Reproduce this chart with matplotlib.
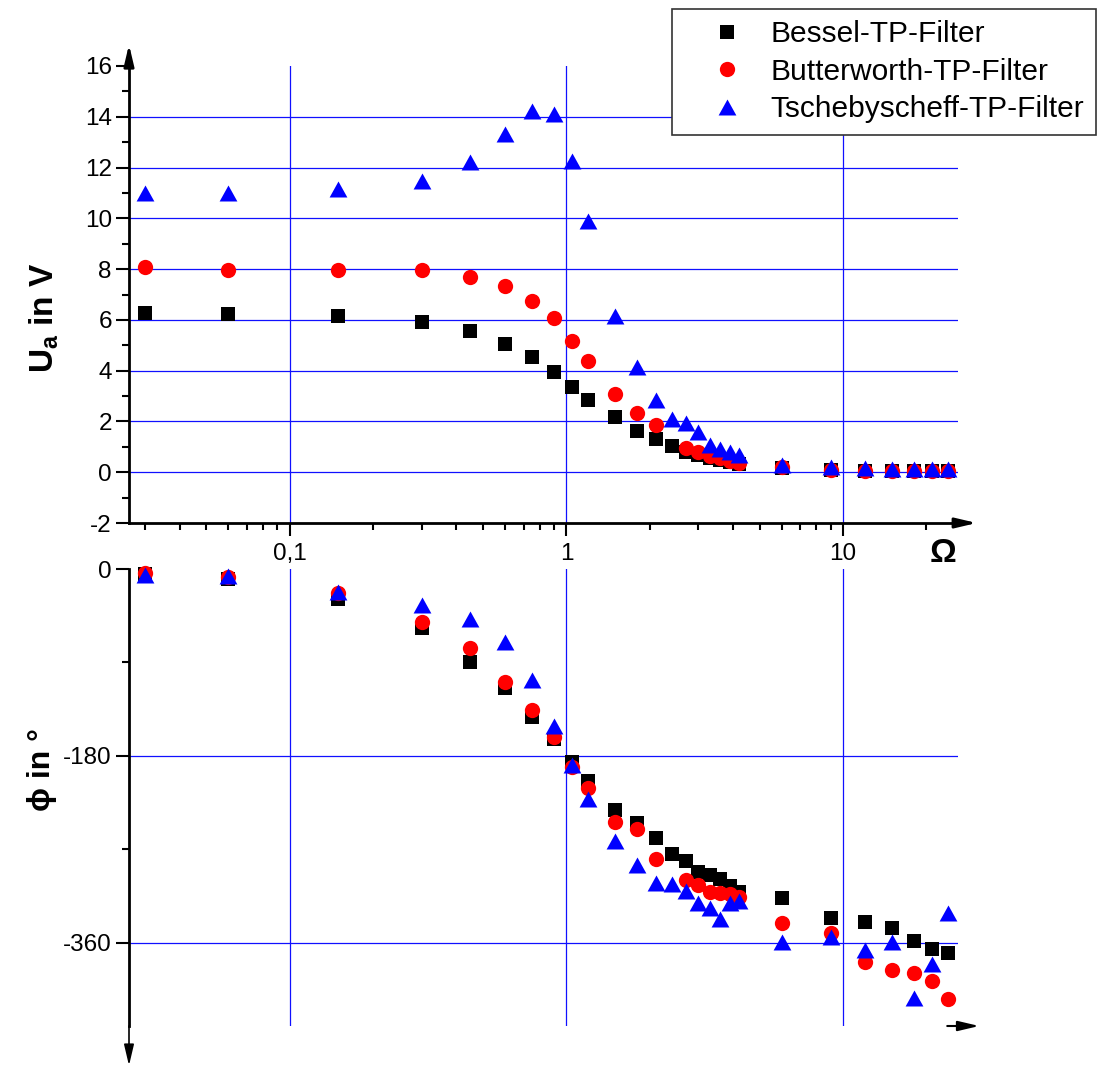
import numpy as np
import matplotlib
matplotlib.use("Agg")
import matplotlib.pyplot as plt
from matplotlib.ticker import FixedLocator, FixedFormatter, NullFormatter

plt.rcParams['font.family'] = ['Liberation Sans', 'DejaVu Sans']
plt.rcParams['mathtext.fontset'] = 'custom'
plt.rcParams['mathtext.rm'] = 'Liberation Sans'
plt.rcParams['mathtext.bf'] = 'Liberation Sans:bold'

nan = np.nan

# normalised frequency Omega = f / f_g
omega = [0.03, 0.06, 0.15, 0.3, 0.45, 0.6, 0.75, 0.9, 1.05, 1.2, 1.5, 1.8, 2.1,
         2.4, 2.7, 3.0, 3.3, 3.6, 3.9, 4.2, 6, 9, 12, 15, 18, 21, 24]

# output voltage U_a in V
u_bessel = [6.27, 6.23, 6.15, 5.92, 5.56, 5.05, 4.54, 3.94, 3.35, 2.84, 2.17, 1.62, 1.30,
            1.03, 0.80, 0.66, 0.55, 0.47, 0.40, 0.33, 0.18, 0.10, 0.06, 0.05, 0.05, 0.04, 0.04]
u_butter = [8.10, 7.97, 7.97, 7.97, 7.69, 7.34, 6.75, 6.08, 5.17, 4.38, 3.10, 2.33, 1.85,
            nan, 0.95, 0.80, 0.65, 0.55, 0.46, 0.38, 0.20, 0.10, 0.06, 0.05, 0.04, 0.04, 0.03]
u_tsch = [11.0, 11.0, 11.16, 11.48, 12.23, 13.33, 14.24, 14.12, 12.27, 9.90, 6.15, 4.14, 2.84,
          2.10, 1.93, 1.58, 1.06, 0.90, 0.80, 0.67, 0.30, 0.22, 0.15, 0.13, 0.13, 0.12, 0.12]

# phase shift phi in degrees
phi_bessel = [-5, -10, -29, -57, -89.5, -114.5, -142.5, -163.6, -185.8, -204, -232, -244.5, -259,
              -274, -281, -291.6, -294.5, -298, -305, -311, -316.7, -336, -340, -345.6, -358, -365.8, -369.6]
phi_butter = [-4, -7.5, -23, -51, -76, -108.8, -135.7, -161.7, -190.6, -210.8, -243.5, -250, -279,
              nan, -299, -304, -311, -312, -313, -316, -340.7, -350, -378, -386, -388.6, -396.6, -414]
phi_tsch = [-6, -7, -22, -34.6, -48, -70, -106.8, -151, -188.7, -221, -261.6, -285, -302,
            -303, -309.6, -322, -326, -336.9, -321.5, -319.6, -359, -354, -366.7, -359, -413, -380, -331]

labels = ["Bessel-TP-Filter", "Butterworth-TP-Filter", "Tschebyscheff-TP-Filter"]

x_major = [0.1, 1, 10]
x_major_labels = ["0,1", "1", "10"]
u_ticks = [-2, 0, 2, 4, 6, 8, 10, 12, 14, 16]
u_grid = [0, 2, 4, 6, 8, 10, 12, 14]
phi_ticks = [0, -180, -360]
phi_grid = [-180, -360]

W, H = 1098, 1066
fig = plt.figure(figsize=(W / 100, H / 100), dpi=100)

left, right = 129 / W, 958 / W
ax1 = fig.add_axes([left, 1 - 523 / H, right - left, (523 - 66) / H])
ax2 = fig.add_axes([left, 1 - 1026 / H, right - left, (1026 - 569) / H])

tri = [(0, 0.9), (-1, -0.9), (1, -0.9)]
styles = [dict(marker='s', color='black', ms=9.6),
          dict(marker='o', color='red', ms=11.0),
          dict(marker=tri, color='blue', ms=12.8)]

xlim = (0.02625, 26.0)
gridc = '#1010ff'
TICKFS = 17.5

for ax in (ax1, ax2):
    ax.set_xscale('log')
    ax.set_xlim(*xlim)
    for s in ('top', 'right'):
        ax.spines[s].set_visible(False)
    ax.spines['left'].set_linewidth(2.0)
    ax.spines['bottom'].set_linewidth(2.0)
    ax.set_facecolor('none')
    for xv in x_major:
        ax.axvline(xv, color=gridc, lw=0.9, zorder=1)

# --- amplitude ---
for y, st, lab in zip([u_bessel, u_butter, u_tsch], styles, labels):
    ax1.plot(omega, y, linestyle='none', markeredgewidth=0, label=lab, zorder=3,
             clip_on=False, **st)
ax1.set_ylim(-2, 16)
for yv in u_grid:
    ax1.axhline(yv, color=gridc, lw=0.9, zorder=1)
ax1.yaxis.set_major_locator(FixedLocator(u_ticks))
ax1.yaxis.set_minor_locator(FixedLocator([-1, 1, 3, 5, 7, 9, 11, 13, 15]))
ax1.yaxis.set_major_formatter(FixedFormatter([str(t) for t in u_ticks]))
ax1.xaxis.set_major_locator(FixedLocator(x_major))
ax1.xaxis.set_major_formatter(FixedFormatter(x_major_labels))
minor = [m * 10.0 ** e for e in (-2, -1, 0, 1) for m in range(2, 10)]
ax1.xaxis.set_minor_locator(FixedLocator([v for v in minor if xlim[0] < v < xlim[1]]))
ax1.xaxis.set_minor_formatter(NullFormatter())
ax1.tick_params(which='major', direction='out', length=9.4, width=1.5, labelsize=TICKFS, pad=3)
ax1.tick_params(axis='x', which='major', pad=5)
ax1.tick_params(which='minor', direction='out', length=5, width=1.5)

# --- phase ---
for y, st in zip([phi_bessel, phi_butter, phi_tsch], styles):
    ax2.plot(omega, y, linestyle='none', markeredgewidth=0, zorder=3, clip_on=False, **st)
ax2.set_ylim(-440, 0)
for yv in phi_grid:
    ax2.axhline(yv, color=gridc, lw=0.9, zorder=1)
ax2.spines['bottom'].set_visible(False)
ax2.yaxis.set_major_locator(FixedLocator(phi_ticks))
ax2.yaxis.set_minor_locator(FixedLocator([-90, -270]))
ax2.yaxis.set_major_formatter(FixedFormatter([str(t) for t in phi_ticks]))
ax2.xaxis.set_major_locator(FixedLocator([]))
ax2.xaxis.set_minor_locator(FixedLocator([]))
ax2.tick_params(which='major', direction='out', length=9.4, width=1.5, labelsize=TICKFS, pad=3)
ax2.tick_params(which='minor', direction='out', length=5, width=1.5)

# axis arrows
def arrow(ax, xy, off, lw, hl=0.85, hw=0.2):
    ax.annotate('', xy=xy, xycoords='axes fraction', xytext=off, textcoords='offset points',
                arrowprops=dict(arrowstyle=f'<|-,head_length={hl},head_width={hw}',
                                color='black', lw=lw, shrinkA=0, shrinkB=0,
                                mutation_scale=15),
                annotation_clip=False)

arrow(ax1, (0, 1), (0, 15.5), 2.0)
arrow(ax1, (1, 0), (13.5, 0), 2.0)
arrow(ax2, (0, 0), (0, -28.5), 1.2)
arrow(ax2, (0.987, 0), (23, 0), 1.5)

# axis titles
fig.text(44 / W, 1 - 318 / H, r'$\mathbf{U_a}$ in V', rotation=90, ha='center', va='center',
         fontsize=24, fontweight='bold')
fig.text(42 / W, 1 - 770 / H, 'ϕ in °', rotation=90, ha='center', va='center',
         fontsize=23, fontweight='bold')
fig.text(943 / W, 1 - 553 / H, 'Ω', ha='center', va='center', fontsize=24, fontweight='bold')

leg = fig.legend(loc='upper left', bbox_to_anchor=(672 / W, 1 - 9 / H), fontsize=21.5,
                 frameon=True, fancybox=False, framealpha=1, edgecolor='#333333',
                 borderpad=0.38, handlelength=2.9, handletextpad=0.02, labelspacing=0.32,
                 borderaxespad=0)
leg.get_frame().set_linewidth(1.2)

fig.savefig('out.png', dpi=100)
